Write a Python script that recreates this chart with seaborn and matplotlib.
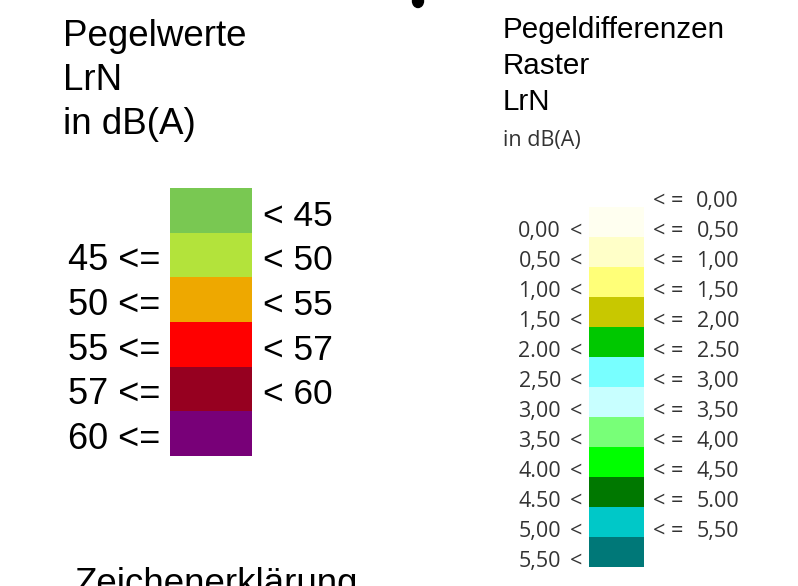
import numpy as np
import matplotlib
matplotlib.use("Agg")
import matplotlib.pyplot as plt
from matplotlib.colors import ListedColormap
from matplotlib.patches import Ellipse
from matplotlib.transforms import blended_transform_factory
import seaborn as sns

# ---------------- data ----------------
left_titles = ["Pegelwerte", "LrN", "in dB(A)"]
left_colors = ["#79C852", "#B3E33B", "#EEA800", "#FF0000", "#960020", "#780078"]
left_lower = ["", "45 <=", "50 <=", "55 <=", "57 <=", "60 <="]
left_upper = ["< 45", "< 50", "< 55", "< 57", "< 60", ""]

right_titles = ["Pegeldifferenzen", "Raster", "LrN"]
right_unit = "in dB(A)"
right_colors = ["#FFFFF0", "#FFFFC8", "#FFFF78", "#C8C800", "#00C800", "#78FFFF",
                "#C8FFFF", "#78FF78", "#00FF00", "#007800", "#00C8C8", "#007878"]
right_lower = ["0,00", "0,50", "1,00", "1,50", "2.00", "2,50",
               "3,00", "3,50", "4.00", "4.50", "5,00", "5,50"]
right_upper = ["0,00", "0,50", "1,00", "1,50", "2,00", "2.50",
               "3,00", "3,50", "4,00", "4,50", "5.00", "5,50"]
bottom_title = "Zeichenerklärung"

# ---------------- figure ----------------
sns.set_theme(style="white")
plt.rcParams["font.family"] = ["Liberation Sans", "DejaVu Sans"]

W, H = 798, 586
fig = plt.figure(figsize=(W / 100, H / 100), dpi=100)
fig.patch.set_facecolor("white")

# full-figure pixel axes for free text
ax0 = fig.add_axes([0, 0, 1, 1])
ax0.set_xlim(0, W)
ax0.set_ylim(H, 0)
ax0.axis("off")


def px_axes(l, t, w, h):
    return fig.add_axes([l / W, 1 - (t + h) / H, w / W, h / H])


# ----- left legend -----
for i, t in enumerate(left_titles):
    ax0.text(63, 46 + i * 44, t, fontsize=26.5, color="black", va="baseline", ha="left")

axL = px_axes(170, 188, 82, 268)
sns.heatmap(np.arange(len(left_colors)).reshape(-1, 1), cmap=ListedColormap(left_colors),
            cbar=False, ax=axL, xticklabels=False, yticklabels=False, linewidths=0)
axL.axis("off")
trL = blended_transform_factory(ax0.transData, axL.transData)
for i in range(len(left_colors)):
    yb = i + 1 - 0.155
    if left_lower[i]:
        axL.text(160, yb, left_lower[i], transform=trL, fontsize=26, ha="right", va="baseline",
                 color="black", clip_on=False)
    if left_upper[i]:
        axL.text(263, yb, left_upper[i], transform=trL, fontsize=25.5, ha="left", va="baseline",
                 color="black", clip_on=False)

# ----- right legend -----
for i, t in enumerate(right_titles):
    ax0.text(503, 38 + i * 36, t, fontsize=21.3, color="black", va="baseline", ha="left")
ax0.text(503, 146, right_unit, fontsize=15.5, color="#333333", va="baseline", ha="left",
         family=["Open Sans", "DejaVu Sans"])

axR = px_axes(589, 207, 55, 360)
sns.heatmap(np.arange(len(right_colors)).reshape(-1, 1), cmap=ListedColormap(right_colors),
            cbar=False, ax=axR, xticklabels=False, yticklabels=False, linewidths=0)
axR.axis("off")
trR = blended_transform_factory(ax0.transData, axR.transData)
num_kw = dict(transform=trR, fontsize=15.5, va="baseline", color="#333333",
              family=["Open Sans", "DejaVu Sans"], clip_on=False)
for i in range(len(right_colors)):
    yb = i + 1
    axR.text(561, yb, right_lower[i], ha="right", **num_kw)
    axR.text(582, yb, "<", ha="right", **num_kw)
    if i < len(right_upper) - 1:
        axR.text(653, yb, "< =", ha="left", **num_kw)
        axR.text(739, yb, right_upper[i + 1], ha="right", **num_kw)
axR.text(653, 0, "< =", ha="left", **num_kw)
axR.text(739, 0, right_upper[0], ha="right", **num_kw)

# ----- top blob and bottom heading (cut off at edges, as in the reference) -----
ax0.add_patch(Ellipse((418, 1), 11, 13, color="black"))
ax0.text(75, 594, bottom_title, fontsize=26.5, color="black", va="baseline", ha="left")

fig.savefig("out.png", dpi=100, facecolor="white")
